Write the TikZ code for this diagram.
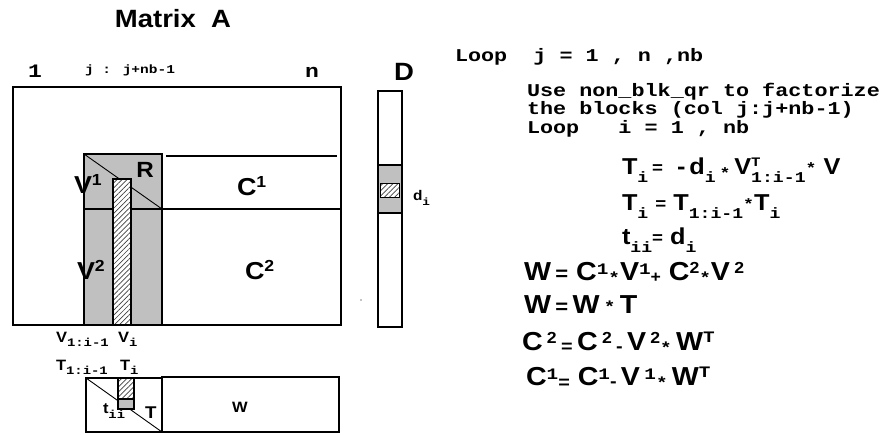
\documentclass[tikz,border=0pt]{standalone}
\usepackage{fontspec}
\usetikzlibrary{patterns.meta}
\newfontfamily\sansb{Liberation Sans}[FakeStretch=1.1]
\newfontfamily\monob{Liberation Mono}[FakeStretch=1.21]
\definecolor{blkgray}{RGB}{192,192,192}
% font helpers: size in pt
\newcommand\SFs[1]{\sansb\bfseries\fontsize{#1}{#1}\selectfont}
\newcommand\TTs[1]{\monob\bfseries\fontsize{#1}{#1}\selectfont}
% lowered / raised pieces of a formula
\newcommand\lowr[3]{\raisebox{#1}{\TTs{#2}#3}}
\newcommand\lows[3]{\raisebox{#1}{\SFs{#2}#3}}
\tikzset{
  frame/.style={draw=black, line width=1.3pt},
  thinline/.style={draw=black, line width=0.9pt},
  grayblk/.style={fill=blkgray, draw=black, line width=1.3pt},
  hatch/.style={preaction={fill=white}, pattern={Lines[angle=45,distance=3.6pt,line width=0.7pt]}, pattern color=black!75, draw=black, line width=1.2pt},
  lbl/.style={inner sep=0pt, outer sep=0pt},
  code/.style={lbl, anchor=base west, font=\TTs{18}},
  eqn/.style={lbl, anchor=base west, font=\SFs{23}},
  eqnb/.style={lbl, anchor=base west, font=\SFs{26}},
}
\begin{document}
\begin{tikzpicture}[x=1pt,y=-1pt]
\useasboundingbox (0,0) rectangle (886,434);

% ---------- matrix A ----------
\draw[frame] (13,87) rectangle (341,325);
% current panel (V1, R, V2)
\filldraw[grayblk] (84,154) rectangle (162,325);
\draw[thinline] (84,154) -- (162,209);
\draw[frame] (84,209) -- (341,209);
\draw[frame] (166,156) -- (337,156);
% column being processed
\filldraw[hatch] (113,179) rectangle (131,325);

% ---------- vector D ----------
\draw[frame] (378,91) rectangle (402,327);
\filldraw[grayblk] (378,165) rectangle (402,213);
\filldraw[hatch, line width=0.8pt] (380,183) rectangle (399,197);
\fill (361,300) circle (0.6pt);

% ---------- T and W ----------
\draw[frame] (86,378) rectangle (162,432);
\draw[thinline] (86,378) -- (162,432);
\filldraw[hatch] (118,378) rectangle (134,399);
\filldraw[grayblk] (118,399) rectangle (134,409);
\draw[frame] (162,377) rectangle (339,432);

% ---------- labels on the left ----------
\node[lbl, anchor=base, font=\SFs{25}] (title) at (173,27) {Matrix\ \ A};
\node[code, font=\TTs{19}] (one) at (28,77) {1};
\node[lbl, anchor=base west, font=\TTs{12}] (jrange) at (85,73) {j : j+nb-1};
\node[code, font=\TTs{19}] (nlab) at (305,77) {n};
\node[lbl, anchor=base, font=\SFs{25}] (dlab) at (404,80) {D};

\node[lbl, anchor=base west, font=\SFs{24.5}] (v1) at (74,193) {V\lows{8pt}{16}{1}};
\node[lbl, anchor=base, font=\SFs{22}] (rlab) at (145,177) {R};
\node[lbl, anchor=base west, font=\SFs{24.5}] (c1) at (237,195) {C\lows{8pt}{16}{1}};
\node[lbl, anchor=base west, font=\SFs{24.5}] (v2) at (77,279) {V\lows{8pt}{16}{2}};
\node[lbl, anchor=base west, font=\SFs{24.5}] (c2) at (245,279) {C\lows{8pt}{16}{2}};
\node[lbl, anchor=base west, font=\SFs{14}] (di) at (413,200) {d\lowr{-5pt}{10.5}{i}};

\node[lbl, anchor=base west, font=\SFs{15}] (vprev) at (56,342) {V\lowr{-4pt}{11.5}{1:i-1}};
\node[lbl, anchor=base west, font=\SFs{15}] (vcur) at (118,342) {V\lowr{-4pt}{11.5}{i}};
\node[lbl, anchor=base west, font=\SFs{15}] (tprev) at (56,370) {T\lowr{-4pt}{11.5}{1:i-1}};
\node[lbl, anchor=base west, font=\SFs{15}] (tcur) at (120,370) {T\lowr{-4pt}{11.5}{i}};
\node[lbl, anchor=base west, font=\SFs{15}] (tii) at (103,413) {t\lowr{-5pt}{11.5}{ii}};
\node[lbl, anchor=base west, font=\SFs{17}] (tlab) at (145,418) {T};
\node[lbl, anchor=base, font=\SFs{15}] (wlab) at (240,412) {W};

% ---------- algorithm ----------
\node[code] (l1) at (455,61) {Loop\ \ j = 1 , n ,nb};
\node[code] (l2) at (527,96) {Use non\_blk\_qr to factorize};
\node[code] (l3) at (527,114) {the blocks (col j:j+nb-1)};
\node[code] (l4) at (527,133) {Loop\ \ \ i = 1 , nb};

\node[eqn] (e1) at (622,174)
  {T\lowr{-8pt}{15}{i}\,\lows{1pt}{17}{=}\ \ -\,d\lowr{-8pt}{15}{i}\,\lowr{-4pt}{15}{*}\,V\rlap{\lowr{8pt}{13}{T}}\lowr{-8pt}{15}{1:i-1}\lowr{1pt}{15}{*}\ V};
\node[eqn] (e2) at (622,210)
  {T\lowr{-8pt}{15}{i}\ \lows{1pt}{17}{=}\ T\lowr{-8pt}{15}{1:i-1}\lowr{1pt}{15}{*}T\lowr{-8pt}{15}{i}};
\node[eqn] (e3) at (622,244)
  {t\lowr{-8pt}{15}{ii}\lows{1pt}{17}{=}\ d\lowr{-8pt}{15}{i}};

\node[eqnb] (e4) at (524,280)
  {W\,\lows{0pt}{20}{=}\ C\lowr{6pt}{16}{1}\lowr{-3pt}{16}{*}V\lowr{6pt}{16}{1}\lows{-2pt}{16}{+}\ C\lows{7pt}{16}{2}\lowr{-3pt}{16}{*}V\,\lows{7pt}{16}{2}};
\node[eqnb] (e5) at (524,313)
  {W\,\lows{0pt}{20}{=}\,W\,\lowr{1pt}{16}{*}\,T};
\node[eqnb] (e6) at (522,350)
  {C\,\lows{7pt}{16}{2}\,\lows{-2pt}{18}{=}\,C\,\lows{7pt}{16}{2}\,\lows{-2pt}{18}{-}\,V\,\lows{7pt}{16}{2}\lowr{-3pt}{16}{*}\,W\lowr{8pt}{16}{T}};
\node[eqnb] (e7) at (526,385)
  {C\lowr{6pt}{16}{1}\lows{-3pt}{18}{=}\ C\lowr{6pt}{16}{1}\lows{-2pt}{18}{-}\,V\,\lowr{6pt}{16}{1}\lowr{-3pt}{16}{*}\,W\lowr{8pt}{16}{T}};
\end{tikzpicture}
\end{document}
